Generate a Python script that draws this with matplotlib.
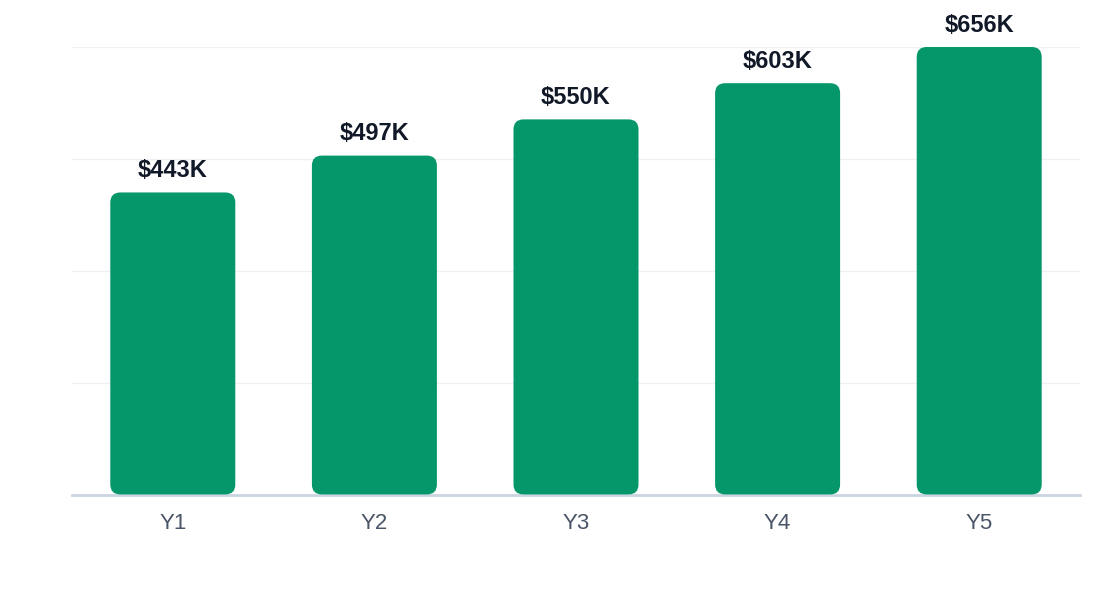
import matplotlib.pyplot as plt
from matplotlib.patches import FancyBboxPatch
import numpy as np

plt.rcParams['font.family'] = ['Liberation Sans', 'DejaVu Sans']

years = ['Y1', 'Y2', 'Y3', 'Y4', 'Y5']
values = [443, 497, 550, 603, 656]
labels = ['$443K', '$497K', '$550K', '$603K', '$656K']

fig = plt.figure(figsize=(11.2, 6), dpi=100)
ax = fig.add_axes([72 / 1120, 105 / 600, 1008 / 1120, 448 / 600])

x = np.arange(len(years))
bars = ax.bar(x, values, width=0.62, color='none')
ax.set_xlim(-0.5, len(years) - 0.5)
ax.set_ylim(0, 656)

# rounded bars: radius ~10px in both directions
px_x = 1008 / len(years)
px_y = 448 / 656
r_x = 10 / px_x
aspect = (10 / px_y) / r_x
for b in bars:
    p = FancyBboxPatch((b.get_x(), 0.8), b.get_width(), b.get_height() - 0.8,
                       boxstyle=f'round,pad=0,rounding_size={r_x}',
                       mutation_aspect=aspect, facecolor='#059669',
                       edgecolor='none', zorder=3)
    ax.add_patch(p)

for xi, v, t in zip(x, values, labels):
    ax.annotate(t, (xi, v), xytext=(0, 7.5), textcoords='offset points',
                ha='center', va='bottom', fontsize=17, fontweight='bold',
                color='#111827')

ax.set_yticks(np.linspace(0, 656, 5))
ax.set_yticklabels([])
ax.grid(axis='y', color='#edf0f4', linewidth=1)
ax.set_axisbelow(True)
ax.tick_params(axis='y', length=0)
ax.set_xticks(x)
ax.set_xticklabels(years, fontsize=16, color='#4a5568')
ax.tick_params(axis='x', length=0, pad=13)
for s in ['top', 'right', 'left']:
    ax.spines[s].set_visible(False)
ax.spines['bottom'].set_color('#cbd5e0')
ax.spines['bottom'].set_linewidth(2)

fig.savefig('out.png', dpi=100)
